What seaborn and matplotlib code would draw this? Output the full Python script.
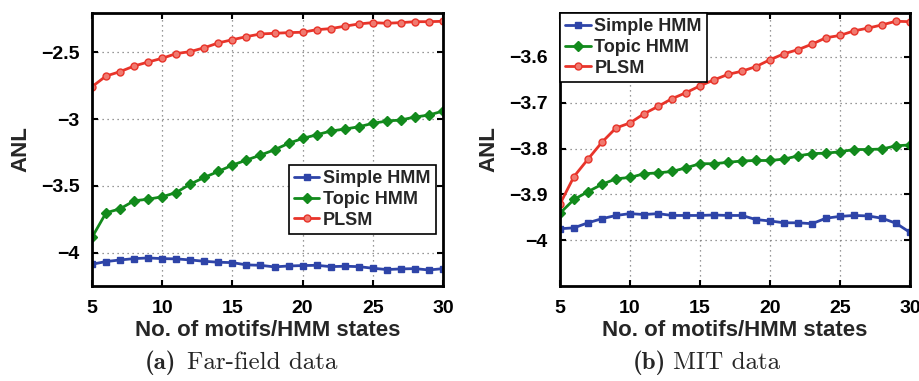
import numpy as np
import pandas as pd
import matplotlib
matplotlib.use("Agg")
import matplotlib.pyplot as plt
import seaborn as sns

states = list(range(5, 31))

# (a) Far-field data
ff_simple = [-4.087, -4.067, -4.055, -4.045, -4.040, -4.045, -4.047, -4.055, -4.065, -4.072,
             -4.075, -4.092, -4.095, -4.107, -4.100, -4.097, -4.095, -4.105, -4.102, -4.105,
             -4.117, -4.127, -4.122, -4.120, -4.130, -4.120]
ff_topic = [-3.886, -3.702, -3.672, -3.612, -3.600, -3.582, -3.550, -3.487, -3.437, -3.392,
            -3.345, -3.307, -3.270, -3.230, -3.182, -3.145, -3.118, -3.090, -3.075, -3.058,
            -3.032, -3.015, -3.007, -2.985, -2.970, -2.940]
ff_plsm = [-2.758, -2.678, -2.645, -2.603, -2.573, -2.545, -2.510, -2.495, -2.466, -2.430,
           -2.406, -2.383, -2.363, -2.358, -2.353, -2.350, -2.331, -2.323, -2.305, -2.288,
           -2.278, -2.283, -2.278, -2.271, -2.271, -2.268]

# (b) MIT data
mit_simple = [-3.975, -3.973, -3.962, -3.953, -3.946, -3.942, -3.944, -3.942, -3.946, -3.946,
              -3.946, -3.945, -3.946, -3.946, -3.955, -3.958, -3.962, -3.962, -3.964, -3.952,
              -3.948, -3.946, -3.947, -3.952, -3.963, -3.983]
mit_topic = [-3.941, -3.911, -3.894, -3.878, -3.866, -3.863, -3.855, -3.853, -3.850, -3.842,
             -3.833, -3.833, -3.830, -3.827, -3.826, -3.826, -3.823, -3.816, -3.811, -3.810,
             -3.807, -3.802, -3.802, -3.801, -3.794, -3.792]
mit_plsm = [-3.921, -3.861, -3.823, -3.786, -3.755, -3.744, -3.724, -3.708, -3.691, -3.678,
            -3.663, -3.650, -3.638, -3.631, -3.621, -3.606, -3.593, -3.584, -3.572, -3.558,
            -3.553, -3.543, -3.537, -3.530, -3.522, -3.523]

series_names = ["Simple HMM", "Topic HMM", "PLSM"]
xticks = [5, 10, 15, 20, 25, 30]
ff_yticks = [-4, -3.5, -3, -2.5]
ff_yticklabels = ["\u22124", "\u22123.5", "\u22123", "\u22122.5"]
mit_yticks = [-4, -3.9, -3.8, -3.7, -3.6]
mit_yticklabels = ["\u22124", "\u22123.9", "\u22123.8", "\u22123.7", "\u22123.6"]

styles = {
    "Simple HMM": dict(color="#2e44a8", marker="s", markersize=5, mfc="#2e44a8", mec="#2e44a8"),
    "Topic HMM": dict(color="#128a1c", marker="D", markersize=5, mfc="#128a1c", mec="#128a1c"),
    "PLSM": dict(color="#e8342a", marker="o", markersize=5, mfc="#f07a70", mec="#e8342a"),
}

sns.set_theme(style="white")
plt.rcParams["font.family"] = ["Liberation Sans", "DejaVu Sans"]

fig = plt.figure(figsize=(9.19, 3.81), dpi=100)
W, H = 919, 381
ax1 = fig.add_axes([92 / W, 1 - 286 / H, (443 - 92) / W, (286 - 13) / H])
ax2 = fig.add_axes([560 / W, 1 - 286 / H, (910 - 560) / W, (286 - 13) / H])


def draw(ax, data, ylim, yticks, yticklabels, legend_loc, legend_anchor):
    df = pd.DataFrame({"x": np.tile(states, 3),
                       "y": np.concatenate(data),
                       "s": np.repeat(series_names, len(states))})
    for name in series_names:
        sub = df[df["s"] == name]
        st = styles[name]
        sns.lineplot(data=sub, x="x", y="y", ax=ax, label=name, color=st["color"],
                     marker=st["marker"], markersize=st["markersize"],
                     markerfacecolor=st["mfc"], markeredgecolor=st["mec"],
                     markeredgewidth=1.0, linewidth=2.0)
    ax.set_xlim(5, 30)
    ax.set_ylim(*ylim)
    ax.set_xticks(xticks)
    ax.set_xticklabels([str(t) for t in xticks], fontsize=14, fontweight="bold")
    ax.set_yticks(yticks)
    ax.set_yticklabels(yticklabels, fontsize=14, fontweight="bold")
    ax.grid(True, linestyle=(0, (1, 3)), color="#777777", linewidth=0.9)
    ax.tick_params(direction="in", length=4, width=1.5, top=True, right=True,
                   bottom=True, left=True, colors="black", pad=9)
    ax.tick_params(axis="x", pad=10)
    for sp in ax.spines.values():
        sp.set_visible(True)
        sp.set_color("black")
        sp.set_linewidth(2.0)
    ax.set_xlabel("No. of motifs/HMM states", fontsize=16, fontweight="bold", labelpad=2)
    ax.set_ylabel("ANL", fontsize=16, fontweight="bold", labelpad=7)
    leg = ax.legend(loc=legend_loc, bbox_to_anchor=legend_anchor, frameon=True, fancybox=False,
                    prop=dict(family="Liberation Sans", weight="bold", size=13),
                    handlelength=1.4, handletextpad=0.2, borderpad=0.3, labelspacing=0.2,
                    borderaxespad=0)
    leg.get_frame().set_edgecolor("black")
    leg.get_frame().set_linewidth(1.2)
    leg.get_frame().set_facecolor("white")
    leg.get_frame().set_alpha(1)


draw(ax1, [ff_simple, ff_topic, ff_plsm], (-4.25, -2.206), ff_yticks, ff_yticklabels,
     "lower right", ((436 - 92) / (443 - 92), (286 - 234) / (286 - 13)))
draw(ax2, [mit_simple, mit_topic, mit_plsm], (-4.1, -3.504), mit_yticks, mit_yticklabels,
     "upper left", (0, 1))

captions = [(145, 187, "(a)", "Far-field data"), (633, 673, "(b)", "MIT data")]
for lx, tx, lab, txt in captions:
    fig.text(lx / W, 1 - 363 / H, lab, ha="left", va="center",
             fontsize=18, family=["cmb10", "DejaVu Serif"])
    fig.text(tx / W, 1 - 363 / H, txt, ha="left", va="center",
             fontsize=18, family=["cmr10", "DejaVu Serif"])

fig.savefig("out.png", dpi=100)
